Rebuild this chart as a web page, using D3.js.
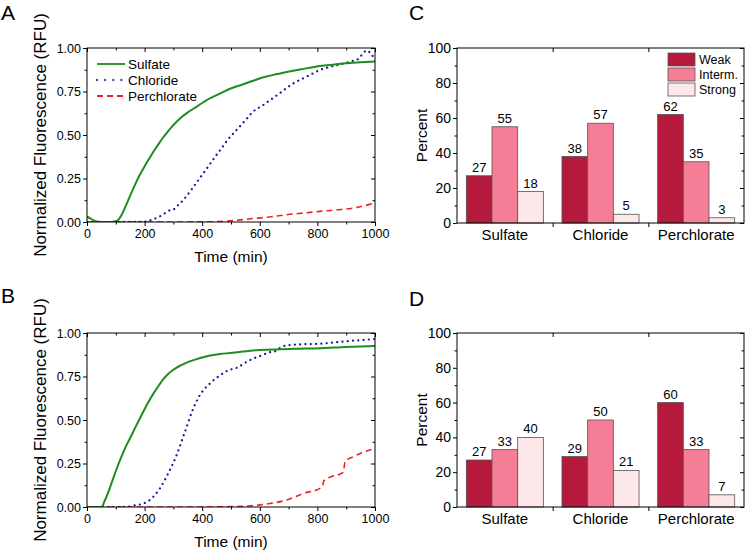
<!DOCTYPE html>
<html><head><meta charset="utf-8">
<script src="https://cdn.jsdelivr.net/npm/d3@7/dist/d3.min.js"></script>
<style>
body{margin:0;background:#fff;}
svg{display:block;font-family:"Liberation Sans",Arial,sans-serif;}
</style></head>
<body><svg id="c" width="745" height="554"></svg>
<script>
// ---------- DATA ----------
const timeTicks = [0, 200, 400, 600, 800, 1000];
const rfuTicks = [0, 0.25, 0.5, 0.75, 1.0];
const pctTicks = [0, 20, 40, 60, 80, 100];
const anions = ["Sulfate", "Chloride", "Perchlorate"];
const strengths = ["Weak", "Interm.", "Strong"];

// Panel A kinetic traces [time (min), normalized RFU]
const sulfateA = [[0,0.03],[10,0.022],[20,0.012],[30,0.005],[40,0.002],[60,0],[80,0],[100,0.004],[110,0.015],[120,0.04],[130,0.075],[140,0.113],[150,0.152],[165,0.208],[180,0.26],[195,0.305],[207,0.34],[220,0.375],[235,0.415],[250,0.452],[265,0.487],[280,0.518],[295,0.548],[310,0.574],[323,0.595],[350,0.63],[381,0.663],[410,0.695],[439,0.72],[470,0.745],[497,0.766],[540,0.79],[577,0.812],[620,0.835],[660,0.85],[693,0.862],[740,0.877],[780,0.888],[809,0.896],[860,0.905],[900,0.912],[950,0.918],[1000,0.922]];
const chlorideA = [[0,0],[100,0],[200,0.002],[225,0.013],[250,0.03],[270,0.05],[288,0.068],[300,0.072],[312,0.09],[335,0.128],[360,0.18],[380,0.225],[404,0.28],[430,0.34],[450,0.386],[470,0.43],[485,0.465],[520,0.53],[550,0.585],[577,0.635],[610,0.67],[635,0.70],[665,0.735],[693,0.77],[720,0.80],[751,0.826],[780,0.85],[809,0.874],[840,0.89],[867,0.90],[900,0.915],[925,0.927],[945,0.94],[960,0.975],[975,0.985],[990,0.955],[1000,0.96]];
const perchlorateA = [[0,0],[100,0],[200,0],[300,0],[400,0.001],[462,0.003],[520,0.01],[577,0.02],[640,0.03],[693,0.042],[750,0.051],[809,0.061],[870,0.07],[925,0.08],[960,0.092],[1000,0.11]];

// Panel B kinetic traces
const sulfateB = [[0,0],[51,0],[60,0.03],[75,0.09],[91,0.165],[110,0.25],[130,0.33],[149,0.394],[170,0.465],[190,0.53],[207,0.585],[230,0.65],[250,0.70],[265,0.735],[280,0.762],[295,0.783],[310,0.80],[323,0.812],[350,0.833],[381,0.85],[410,0.863],[439,0.873],[462,0.879],[497,0.885],[540,0.893],[577,0.90],[650,0.905],[720,0.91],[809,0.913],[900,0.92],[1000,0.925]];
const chlorideB = [[0,0],[100,0],[150,0.003],[167,0.01],[196,0.02],[225,0.05],[253,0.107],[282,0.193],[311,0.298],[340,0.432],[369,0.566],[392,0.643],[427,0.71],[462,0.757],[491,0.786],[520,0.80],[550,0.83],[577,0.853],[605,0.87],[635,0.89],[650,0.893],[665,0.91],[693,0.929],[750,0.935],[809,0.938],[870,0.948],[925,0.956],[960,0.96],[1000,0.966]];
const perchlorateB = [[0,0],[200,0],[400,0],[500,0.002],[560,0.006],[600,0.012],[635,0.02],[693,0.04],[751,0.078],[809,0.107],[818,0.12],[822,0.15],[850,0.175],[880,0.19],[890,0.2],[896,0.26],[925,0.289],[960,0.315],[1000,0.337]];

// Panel C / D percentages (rows: anions, cols: Weak, Interm., Strong)
const weakC = [27, 38, 62];
const intermC = [55, 57, 35];
const strongC = [18, 5, 3];
const weakD = [27, 29, 60];
const intermD = [33, 50, 33];
const strongD = [40, 21, 7];

// ---------- STYLE ----------
const barColors = ["#b5193b", "#f57d96", "#fde8e9"];
const lineStyles = {
  Sulfate: {color:"#1e8c1e", width:2, dash:null},
  Chloride: {color:"#1c1c9c", width:2.2, dash:"0.1,5.2", cap:"round"},
  Perchlorate: {color:"#ee2222", width:1.6, dash:"6,4"}
};

const svg = d3.select("#c");

function frameAxes(g, x, y, xt, xminor, yt, yminor, xfmt, yfmt, tickFont) {
  const [x0, x1] = x.range(), [y0, y1] = y.range();
  g.append("g").attr("transform", `translate(0,${y0})`)
    .call(d3.axisBottom(x).tickValues(xminor).tickSize(2.5).tickFormat(""));
  g.append("g").attr("transform", `translate(0,${y0})`)
    .call(d3.axisBottom(x).tickValues(xt).tickSize(4).tickPadding(3).tickFormat(xfmt))
    .call(a => a.selectAll("text").attr("font-size", tickFont));
  g.append("g").attr("transform", `translate(0,${y1})`)
    .call(d3.axisBottom(x).tickValues(xminor).tickSize(2.5).tickFormat(""));
  g.append("g").attr("transform", `translate(0,${y1})`)
    .call(d3.axisBottom(x).tickValues(xt).tickSize(4).tickFormat(""));
  g.append("g").attr("transform", `translate(${x0},0)`)
    .call(d3.axisLeft(y).tickValues(yminor).tickSize(2.5).tickFormat(""));
  g.append("g").attr("transform", `translate(${x0},0)`)
    .call(d3.axisLeft(y).tickValues(yt).tickSize(4).tickPadding(2).tickFormat(yfmt))
    .call(a => a.selectAll("text").attr("font-size", tickFont));
  g.append("g").attr("transform", `translate(${x1},0)`)
    .call(d3.axisLeft(y).tickValues(yminor).tickSize(2.5).tickFormat(""));
  g.append("g").attr("transform", `translate(${x1},0)`)
    .call(d3.axisLeft(y).tickValues(yt).tickSize(4).tickFormat(""));
  g.selectAll(".domain").remove();
  g.selectAll(".tick line").attr("stroke", "#000");
  g.selectAll(".tick text").attr("fill", "#000").attr("font-family", '"Liberation Sans",Arial,sans-serif');
  g.append("rect").attr("x", x0).attr("y", y1).attr("width", x1 - x0).attr("height", y0 - y1)
    .attr("fill", "none").attr("stroke", "#000").attr("stroke-width", 1);
}

function linePanel(top, bottom, series, showLegend, letter, letterY) {
  const g = svg.append("g");
  const x = d3.scaleLinear().domain([0, 1000]).range([87, 375]);
  const y = d3.scaleLinear().domain([0, 1]).range([bottom, top]);
  const clipId = "clip" + letter;
  g.append("clipPath").attr("id", clipId).append("rect")
    .attr("x", 87).attr("y", top - 2).attr("width", 288).attr("height", bottom - top + 2);
  const line = d3.line().x(d => x(d[0])).y(d => y(d[1])).curve(d3.curveMonotoneX);
  ["Perchlorate", "Chloride", "Sulfate"].forEach(name => {
    const s = lineStyles[name];
    g.append("path").attr("clip-path", `url(#${clipId})`)
      .attr("d", line(series[name])).attr("fill", "none")
      .attr("stroke", s.color).attr("stroke-width", s.width)
      .attr("stroke-dasharray", s.dash).attr("stroke-linecap", s.cap || "butt");
  });
  frameAxes(g, x, y, timeTicks, [100,300,500,700,900], rfuTicks, [0.125,0.375,0.625,0.875],
    d3.format("d"), d3.format(".2f"), "12.5px");
  g.append("text").attr("x", 231).attr("y", bottom + 40).attr("text-anchor", "middle")
    .attr("font-size", "15.5px").text("Time (min)");
  g.append("text").attr("transform", `translate(46,${(top + bottom) / 2}) rotate(-90)`)
    .attr("text-anchor", "middle").attr("font-size", "17px").text("Normalized Fluorescence (RFU)");
  g.append("text").attr("x", 1).attr("y", letterY).attr("font-size", "21px").text(letter);
  if (showLegend) {
    ["Sulfate", "Chloride", "Perchlorate"].forEach((name, i) => {
      const s = lineStyles[name];
      const ly = 64 + i * 16;
      g.append("line").attr("x1", 97).attr("x2", 125).attr("y1", ly).attr("y2", ly)
        .attr("stroke", s.color).attr("stroke-width", name === "Chloride" ? 2.2 : 1.8)
        .attr("stroke-dasharray", name === "Chloride" ? "0.1,8" : s.dash)
        .attr("stroke-linecap", s.cap || "butt");
      g.append("text").attr("x", 128).attr("y", ly + 4.5).attr("font-size", "13.5px").text(name);
    });
  }
}

function barPanel(top, bottom, weak, interm, strong, showLegend, letter, letterY) {
  const g = svg.append("g");
  const x0 = d3.scaleBand().domain(anions).range([457, 744]).padding(0);
  const x1 = d3.scaleBand().domain(strengths).range([0, x0.bandwidth()]).paddingInner(0).paddingOuter(0.362);
  const y = d3.scaleLinear().domain([0, 100]).range([bottom, top]);
  const cols = [weak, interm, strong];
  anions.forEach((a, i) => {
    strengths.forEach((s, j) => {
      const v = cols[j][i];
      const bx = x0(a) + x1(s);
      g.append("rect").attr("x", bx).attr("y", y(v)).attr("width", x1.bandwidth())
        .attr("height", y(0) - y(v)).attr("fill", barColors[j])
        .attr("stroke", "#555").attr("stroke-width", 0.8);
      g.append("text").attr("x", bx + x1.bandwidth() / 2).attr("y", y(v) - 4)
        .attr("text-anchor", "middle").attr("font-size", "13px").text(v);
    });
  });
  const bx = d3.scaleLinear().domain([0, 3]).range([457, 744]);
  frameAxes(g, bx, y, [1, 2], [], pctTicks, [10,30,50,70,90], () => "", d3.format("d"), "14px");
  anions.forEach(a => {
    g.append("text").attr("x", x0(a) + x0.bandwidth() / 2).attr("y", bottom + 17)
      .attr("text-anchor", "middle").attr("font-size", "15px").text(a);
  });
  g.append("text").attr("transform", `translate(427,${(top + bottom) / 2}) rotate(-90)`)
    .attr("text-anchor", "middle").attr("font-size", "15.5px").text("Percent");
  g.append("text").attr("x", 409).attr("y", letterY).attr("font-size", "21px").text(letter);
  if (showLegend) {
    strengths.forEach((s, j) => {
      const ly = 53 + j * 15;
      g.append("rect").attr("x", 668).attr("y", ly).attr("width", 27).attr("height", 13)
        .attr("fill", barColors[j]).attr("stroke", "#555").attr("stroke-width", 0.8);
      g.append("text").attr("x", 699).attr("y", ly + 11).attr("font-size", "12.5px").text(s);
    });
  }
}

linePanel(48, 222, {Sulfate: sulfateA, Chloride: chlorideA, Perchlorate: perchlorateA}, true, "A", 20);
linePanel(333, 507, {Sulfate: sulfateB, Chloride: chlorideB, Perchlorate: perchlorateB}, false, "B", 303);
barPanel(48, 223, weakC, intermC, strongC, true, "C", 20);
barPanel(333, 507, weakD, intermD, strongD, false, "D", 306);
</script></body></html>
